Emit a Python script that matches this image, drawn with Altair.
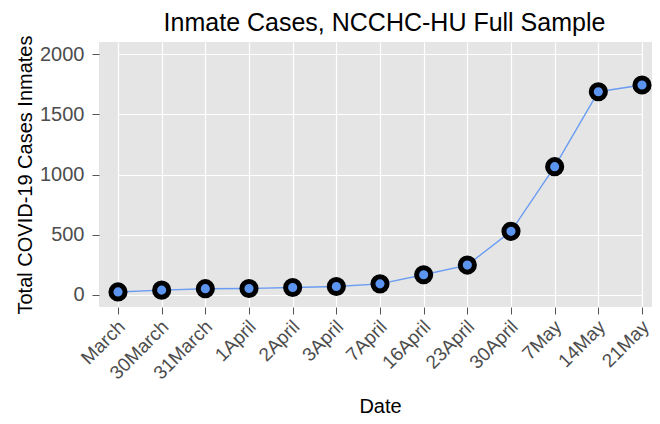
import altair as alt
import pandas as pd

dates = ["March", "30March", "31March", "1April", "2April", "3April", "7April",
         "16April", "23April", "30April", "7May", "14May", "21May"]
cases = [25, 40, 52, 54, 62, 70, 92, 168, 248, 528, 1065, 1687, 1743]

df = pd.DataFrame({"Date": dates, "Cases": cases})

FONT = "Liberation Sans"

x_enc = alt.X("Date:N", sort=dates, title="Date",
              scale=alt.Scale(type="point", range=[19, 543], padding=0),
              axis=alt.Axis(labelAngle=-45, labelAlign="right", labelBaseline="top",
                            labelFontSize=19, labelColor="#4d4d4d", labelFont=FONT,
                            labelOffset=-3,
                            titleFontSize=20, titleColor="#000000", titleFont=FONT,
                            titleFontWeight="normal", titlePadding=14,
                            tickColor="#555555", tickSize=7, domain=False,
                            grid=True, gridColor="#ffffff", gridWidth=1.2,
                            labelPadding=3))
y_enc = alt.Y("Cases:Q", title="Total COVID-19 Cases Inmates",
              scale=alt.Scale(domain=[-100, 2100], nice=False, zero=False),
              axis=alt.Axis(values=[0, 500, 1000, 1500, 2000], format="d",
                            labelFontSize=20, labelColor="#4d4d4d", labelFont=FONT,
                            titleFontSize=20, titleColor="#000000", titleFont=FONT,
                            titleFontWeight="normal", titlePadding=4,
                            tickColor="#555555", tickSize=7, domain=False,
                            grid=True, gridColor="#ffffff", gridWidth=1.2,
                            labelPadding=8))

base = alt.Chart(df).encode(x=x_enc, y=y_enc)

line = base.mark_line(color="#6a9cf2", strokeWidth=1.4)
pts = base.mark_point(filled=True, fill="#5b95f0", stroke="#000000",
                      strokeWidth=5, size=200, opacity=1, shape="circle")

chart = (line + pts).properties(
    width=553, height=265,
    autosize=alt.AutoSizeParams(type="none"),
    padding={"left": 91, "top": 34, "right": 0, "bottom": 109},
    background="#ffffff",
    title=alt.TitleParams("Inmate Cases, NCCHC-HU Full Sample", font=FONT,
                          fontSize=25, fontWeight="normal", color="#000000",
                          anchor="middle", dx=9, offset=-1),
).configure_view(fill="#e5e5e5", stroke=None)

chart.save("out.html", embed_options={"renderer": "svg", "actions": False})
